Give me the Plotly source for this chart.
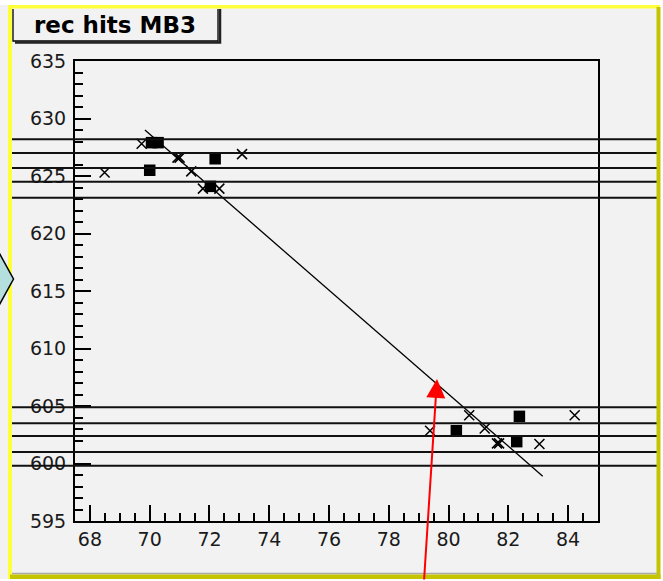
import plotly.graph_objects as go

# ---- data ----
cross_x = [68.49, 69.73, 70.93, 71.00, 71.39, 71.78, 72.33, 73.09,
           80.69, 84.22, 79.38, 81.21, 81.62, 81.69, 83.04]
cross_y = [625.3, 627.8, 626.6, 626.6, 625.4, 623.9, 623.9, 626.9,
           604.2, 604.2, 602.85, 603.05, 601.75, 601.75, 601.7]
square_x = [70.06, 70.28, 70.00, 72.19, 72.03, 82.37, 80.26, 82.28]
square_y = [627.9, 627.9, 625.5, 626.5, 624.1, 604.1, 602.85, 601.9]
fit_x = [69.84, 83.15]
fit_y = [629.0, 598.9]
layer_y = [628.2, 627.0, 625.7, 624.5, 623.1, 604.9, 603.5, 602.4, 601.0, 599.8]
x_range = [67.5, 85.0]
y_range = [595, 635]
title_text = "rec hits MB3"

W, H = 663, 581
L, R, T, B = 75, 598, 61, 521


def px(xp):
    return (xp - L) / (R - L)


def py(yp):
    return (B - yp) / (B - T)


BG = "#f2f2f2"
fig = go.Figure()

fig.add_trace(go.Scatter(x=fit_x, y=fit_y, mode="lines",
                         line=dict(color="black", width=1.3), hoverinfo="skip"))
fig.add_trace(go.Scatter(x=cross_x, y=cross_y, mode="markers",
                         marker=dict(symbol="x-thin-open", size=10, color="black",
                                     line=dict(color="black", width=1.5))))
fig.add_trace(go.Scatter(x=square_x, y=square_y, mode="markers",
                         marker=dict(symbol="square", size=11.5, color="black",
                                     line=dict(width=0))))

shapes = []
# horizontal chamber layers extending beyond the frame
for yv in layer_y:
    shapes.append(dict(type="line", xref="paper", yref="y", x0=px(12), x1=px(657),
                       y0=yv, y1=yv, line=dict(color="#111111", width=2), layer="above"))

# outer white strips
shapes += [
    dict(type="rect", xref="paper", yref="paper", x0=px(-5), x1=px(670), y0=py(-5), y1=py(5),
         fillcolor="white", line=dict(width=0), layer="below"),
    dict(type="rect", xref="paper", yref="paper", x0=px(660), x1=px(670), y0=py(-5), y1=py(590),
         fillcolor="white", line=dict(width=0), layer="below"),
    dict(type="rect", xref="paper", yref="paper", x0=px(-5), x1=px(670), y0=py(579), y1=py(590),
         fillcolor="white", line=dict(width=0), layer="below"),
]
# yellow / olive frame
shapes += [
    dict(type="rect", xref="paper", yref="paper", x0=px(8), x1=px(660), y0=py(5), y1=py(8.5),
         fillcolor="#ffff3a", line=dict(width=0), layer="above"),
    dict(type="rect", xref="paper", yref="paper", x0=px(8), x1=px(12), y0=py(5), y1=py(579),
         fillcolor="#ffff3a", line=dict(width=0), layer="above"),
    dict(type="rect", xref="paper", yref="paper", x0=px(656.5), x1=px(660.5), y0=py(7), y1=py(579),
         fillcolor="#c4c400", line=dict(width=0), layer="above"),
    dict(type="line", xref="paper", yref="paper", x0=px(12), x1=px(657), y0=py(573.5), y1=py(573.5),
         line=dict(color="#a8a8a8", width=1.5), layer="above"),
    dict(type="rect", xref="paper", yref="paper", x0=px(10), x1=px(660.5), y0=py(574.5), y1=py(579),
         fillcolor="#c4c400", line=dict(width=0), layer="above"),
]
# title box with shadow
shapes += [
    dict(type="path", xref="paper", yref="paper",
         path=f"M {px(13)},{py(9)} L {px(13)},{py(41)} L {px(218)},{py(41)} L {px(218)},{py(9)}",
         line=dict(color="black", width=1.3), layer="above"),
    dict(type="path", xref="paper", yref="paper",
         path=f"M {px(15)},{py(42.5)} L {px(220)},{py(42.5)} L {px(220)},{py(9)}",
         line=dict(color="#222222", width=2.5), layer="above"),
]
# left blue arrow marker
shapes.append(dict(type="path", xref="paper", yref="paper",
                   path=(f"M {px(-20)},{py(218)} L {px(13.5)},{py(279)} "
                         f"L {px(-20)},{py(340)} Z"),
                   fillcolor="#b5dede", line=dict(color="black", width=1.5), layer="above"))

fig.update_layout(shapes=shapes)

fig.add_annotation(xref="paper", yref="paper", x=px(115), y=py(25),
                   text=f"<b>{title_text}</b>", showarrow=False,
                   xanchor="center", yanchor="middle",
                   font=dict(family="DejaVu Sans", size=23, color="black"))

# red arrow
fig.add_annotation(xref="paper", yref="paper", x=px(437), y=py(379), text="",
                   showarrow=True, ax=-13, ay=205, arrowcolor="red",
                   arrowwidth=2, arrowhead=2, arrowsize=1.9)

axis_font = dict(family="DejaVu Sans", size=19, color="#1a1a1a")
fig.update_xaxes(range=x_range, showgrid=False, zeroline=False,
                 showline=True, linecolor="black", linewidth=2, mirror=True,
                 ticks="inside", ticklen=16, tickwidth=1.5, tickcolor="black",
                 tick0=68, dtick=2, tickfont=axis_font,
                 minor=dict(ticks="inside", ticklen=8, tickwidth=1.5, tickcolor="black",
                            dtick=0.5, tick0=67.5, showgrid=False))
fig.update_yaxes(range=y_range, showgrid=False, zeroline=False,
                 showline=True, linecolor="black", linewidth=2, mirror=True,
                 ticks="inside", ticklen=16, tickwidth=1.5, tickcolor="black",
                 tick0=595, dtick=5, tickfont=axis_font, ticklabelstandoff=3,
                 minor=dict(ticks="inside", ticklen=8, tickwidth=1.5, tickcolor="black",
                            dtick=1, showgrid=False))

fig.update_layout(width=W, height=H, showlegend=False,
                  margin=dict(l=L, r=W - R, t=T, b=H - B),
                  paper_bgcolor=BG, plot_bgcolor=BG)

fig.write_html("out.html", config={"displayModeBar": False},
               post_script="document.body.style.margin='0';")
